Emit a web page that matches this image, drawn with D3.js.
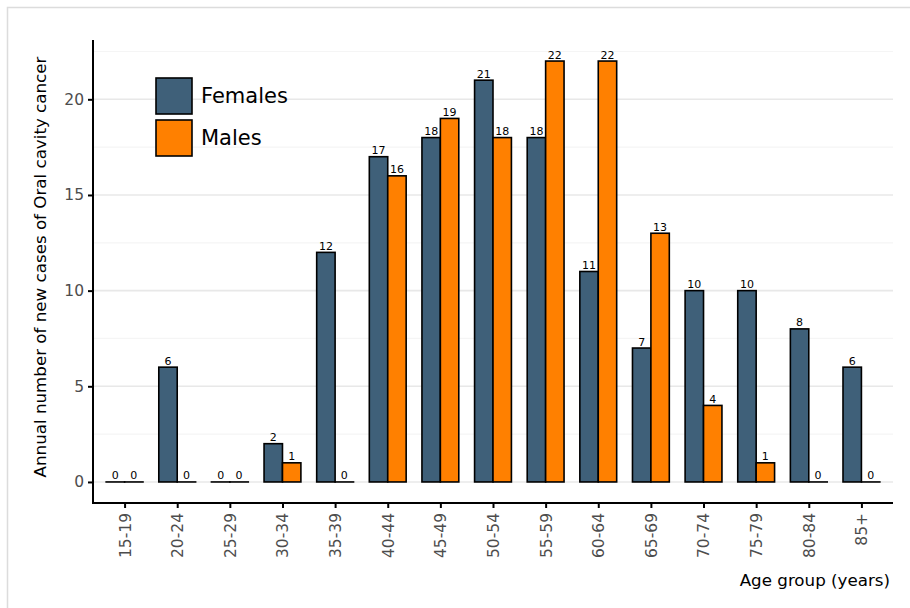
<!DOCTYPE html>
<html><head><meta charset="utf-8">
<script src="https://cdn.jsdelivr.net/npm/d3@7"></script>
<style>body{margin:0;background:#fff;font-family:"DejaVu Sans",sans-serif;}</style>
</head><body>
<svg id="c" width="910" height="608"></svg>
<script>
const categories = ["15-19","20-24","25-29","30-34","35-39","40-44","45-49","50-54","55-59","60-64","65-69","70-74","75-79","80-84","85+"];
const females = [0,6,0,2,12,17,18,21,18,11,7,10,10,8,6];
const males   = [0,0,0,1,0,16,19,18,22,22,13,4,1,0,0];
const seriesNames = ["Females","Males"];
const seriesColors = ["#3f6079","#ff8000"];
const yTicks = [0,5,10,15,20];
const yMinor = [2.5,7.5,12.5,17.5,22.5];

const svg = d3.select("#c");
svg.append("rect").attr("x",7.5).attr("y",7.5).attr("width",920).attr("height",620)
  .attr("fill","none").attr("stroke","#dcdcdc").attr("stroke-width",1.5);

const L=93, R=893, T=40, B=503;
const y = d3.scaleLinear().domain([-1.1,23.1]).range([B,T]);
const unit = (R-L)/(categories.length-1+1.2);
const xc = d3.scalePoint().domain(categories).range([L+0.6*unit, R-0.6*unit]);
const bw = unit*0.7/2;

const g = svg.append("g");
g.selectAll(".minor").data(yMinor).join("line")
  .attr("x1",L).attr("x2",R).attr("y1",d=>y(d)).attr("y2",d=>y(d))
  .attr("stroke","#f5f5f5").attr("stroke-width",1.2);
g.selectAll(".major").data(yTicks).join("line")
  .attr("x1",L).attr("x2",R).attr("y1",d=>y(d)).attr("y2",d=>y(d))
  .attr("stroke","#e8e8e8").attr("stroke-width",1.6);

const data = [];
categories.forEach((c,i)=>{
  data.push({c, s:0, v:females[i]});
  data.push({c, s:1, v:males[i]});
});
const bx = d => xc(d.c) - bw + d.s*bw;

g.selectAll("rect.bar").data(data.filter(d=>d.v>0)).join("rect").attr("class","bar")
  .attr("x",bx).attr("width",bw)
  .attr("y",d=>y(d.v)).attr("height",d=>y(0)-y(d.v))
  .attr("fill",d=>seriesColors[d.s]).attr("stroke","#000").attr("stroke-width",1.6);
g.selectAll("line.zero").data(data.filter(d=>d.v===0)).join("line").attr("class","zero")
  .attr("x1",d=>bx(d)-0.8).attr("x2",d=>bx(d)+bw+0.8).attr("y1",y(0)).attr("y2",y(0))
  .attr("stroke","#000").attr("stroke-width",1.6);

g.selectAll("text.lbl").data(data).join("text")
  .attr("x",d=>bx(d)+bw/2).attr("y",d=>y(d.v)-2.5)
  .attr("text-anchor","middle").attr("font-size",11).attr("fill","#000")
  .text(d=>d.v);

// axes
const yAxis = d3.axisLeft(y).tickValues(yTicks).tickSize(5).tickPadding(4);
const ya = svg.append("g").attr("transform",`translate(${L},0)`).call(yAxis);
ya.select(".domain").remove();
ya.selectAll(".tick line").attr("stroke","#000").attr("stroke-width",2);
ya.selectAll(".tick text").attr("font-size",15.5).attr("fill","#4d4d4d").attr("font-family","DejaVu Sans");
svg.append("line").attr("x1",L).attr("x2",L).attr("y1",T).attr("y2",B+1).attr("stroke","#000").attr("stroke-width",2);

const xAxis = d3.axisBottom(xc).tickSize(5).tickPadding(0);
const xa = svg.append("g").attr("transform",`translate(0,${B})`).call(xAxis);
xa.select(".domain").remove();
xa.selectAll(".tick line").attr("stroke","#000").attr("stroke-width",2);
xa.selectAll(".tick text").attr("font-size",15.5).attr("fill","#4d4d4d").attr("font-family","DejaVu Sans")
  .attr("transform","rotate(-90)").attr("text-anchor","end").attr("dy","0.35em").attr("x",-10).attr("y",0);
svg.append("line").attr("x1",L-1).attr("x2",R).attr("y1",B).attr("y2",B).attr("stroke","#000").attr("stroke-width",2);

svg.append("text").attr("transform","translate(46,267) rotate(-90)").attr("text-anchor","middle")
  .attr("font-size",16.7).attr("fill","#000").text("Annual number of new cases of Oral cavity cancer");
svg.append("text").attr("x",890).attr("y",586).attr("text-anchor","end")
  .attr("font-size",16.7).attr("fill","#000").text("Age group (years)");

// legend
const lg = svg.append("g").attr("transform","translate(156,78)");
seriesNames.forEach((n,i)=>{
  lg.append("rect").attr("x",0).attr("y",i*42).attr("width",36).attr("height",36)
    .attr("fill",seriesColors[i]).attr("stroke","#000").attr("stroke-width",1.6);
  lg.append("text").attr("x",45).attr("y",i*42+18).attr("dy","0.35em")
    .attr("font-size",21).attr("fill","#000").text(n);
});
</script>
</body></html>
